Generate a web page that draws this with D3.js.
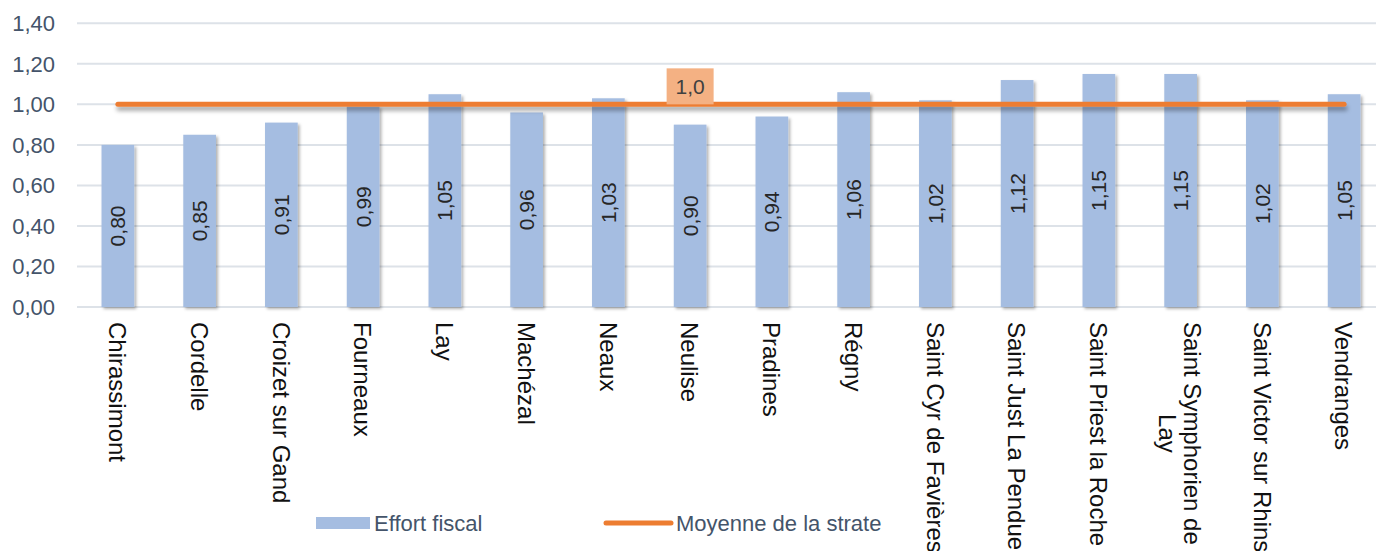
<!DOCTYPE html>
<html>
  <head>
    <meta charset="utf-8">
    <script src="https://cdnjs.cloudflare.com/ajax/libs/d3/7.8.5/d3.min.js"></script>
    <style>
      body { margin: 0; background: #fff; }
      svg { display: block; font-family: "Liberation Sans", Arial, sans-serif; }
      line.grid { stroke: #dde2e8; stroke-width: 2; }
      rect.bar { fill: #a5bde1; }
      path.moyenne { fill: none; stroke: #ed7d31; stroke-width: 5; stroke-linecap: round; }
      text.tick { fill: #44546a; font-size: 22px; }
      text.val { fill: #262626; font-size: 21px; }
      text.cat { fill: #111; font-size: 24px; }
      text.leg { fill: #44546a; font-size: 22px; }
    </style>
  </head>
  <body>
    <svg width="1376" height="551"></svg>
    <script>
      // communes (les "\n" marquent un retour a la ligne)
      var communes = ["Chirassimont", "Cordelle", "Croizet sur Gand", "Fourneaux", "Lay",
        "Machézal", "Neaux", "Neulise", "Pradines", "Régny", "Saint Cyr de Favières",
        "Saint Just La Pendue", "Saint Priest la Roche", "Saint Symphorien de\nLay",
        "Saint Victor sur Rhins", "Vendranges"];
      var effortFiscal = [0.80, 0.85, 0.91, 0.99, 1.05, 0.96, 1.03, 0.90, 0.94, 1.06,
        1.02, 1.12, 1.15, 1.15, 1.02, 1.05];
      var moyenneStrate = [1.0, 1.0, 1.0, 1.0, 1.0, 1.0, 1.0, 1.0, 1.0, 1.0,
        1.0, 1.0, 1.0, 1.0, 1.0, 1.0];
      var yTicks = [0, 0.2, 0.4, 0.6, 0.8, 1.0, 1.2, 1.4];
      var labelIndex = 7; // etiquette "1,0" sur la courbe

      var fr2 = (v) => v.toFixed(2).replace(".", ",");
      var fr1 = (v) => v.toFixed(1).replace(".", ",");

      var svg = d3.select("svg");

      var defs = svg.append("defs");
      defs.append("filter").attr("id", "barShadow")
        .attr("x", "-20%").attr("y", "-10%").attr("width", "150%").attr("height", "130%")
        .append("feDropShadow")
        .attr("dx", 2).attr("dy", 2).attr("stdDeviation", 1.5)
        .attr("flood-color", "#000").attr("flood-opacity", 0.3);
      // la ligne est horizontale : region du filtre en unites utilisateur
      defs.append("filter").attr("id", "lineShadow")
        .attr("filterUnits", "userSpaceOnUse")
        .attr("x", 0).attr("y", 0).attr("width", 1376).attr("height", 551)
        .append("feDropShadow")
        .attr("dx", 1).attr("dy", 4).attr("stdDeviation", 2)
        .attr("flood-color", "#000").attr("flood-opacity", 0.35);

      var x = d3.scaleBand()
        .domain(communes)
        .range([77, 1385])
        .paddingInner(0.6)
        .paddingOuter(0.3);

      var y = d3.scaleLinear().domain([0, 1.4]).range([307, 23.3]);

      // grille
      svg.append("g").selectAll("line")
        .data(yTicks)
        .enter()
        .append("line")
        .attr("class", "grid")
        .attr("x1", 77).attr("x2", 1376)
        .attr("y1", (d) => y(d)).attr("y2", (d) => y(d));

      svg.append("g").selectAll("text")
        .data(yTicks)
        .enter()
        .append("text")
        .attr("class", "tick")
        .attr("x", 55)
        .attr("y", (d) => y(d))
        .attr("dy", "0.36em")
        .attr("text-anchor", "end")
        .text(fr2);

      // barres
      svg.append("g").selectAll("rect")
        .data(effortFiscal)
        .enter()
        .append("rect")
        .attr("class", "bar")
        .attr("x", (d, i) => x(communes[i]))
        .attr("width", x.bandwidth())
        .attr("y", (d) => y(d))
        .attr("height", (d) => y(0) - y(d))
        .attr("filter", "url(#barShadow)");

      // valeurs dans les barres
      svg.append("g").selectAll("text")
        .data(effortFiscal)
        .enter()
        .append("text")
        .attr("class", "val")
        .attr("text-anchor", "middle")
        .attr("dy", "0.36em")
        .attr("transform", (d, i) => {
          var cx = x(communes[i]) + x.bandwidth() / 2;
          var cy = (y(d) + y(0)) / 2;
          return "translate(" + cx + "," + cy + ") rotate(-90)";
        })
        .text(fr2);

      // moyenne de la strate
      var line = d3.line()
        .x((d, i) => x(communes[i]) + x.bandwidth() / 2)
        .y((d) => y(d));

      svg.append("path")
        .datum(moyenneStrate)
        .attr("class", "moyenne")
        .attr("d", line)
        .attr("filter", "url(#lineShadow)");

      var lx = x(communes[labelIndex]) + x.bandwidth() / 2;
      var ly = y(moyenneStrate[labelIndex]);
      svg.append("rect")
        .attr("x", lx - 23.5).attr("y", ly - 36)
        .attr("width", 47).attr("height", 36)
        .attr("fill", "#f4b183");
      svg.append("text")
        .attr("x", lx).attr("y", ly - 10)
        .attr("text-anchor", "middle")
        .attr("fill", "#404040")
        .style("font-size", "21px")
        .text(fr1(moyenneStrate[labelIndex]));

      // etiquettes des communes
      var cats = svg.append("g").selectAll("text")
        .data(communes)
        .enter()
        .append("text")
        .attr("class", "cat");

      cats.each(function (d) {
        var t = d3.select(this);
        var lines = d.split("\n");
        var cx = x(d) + x.bandwidth() / 2;
        var lh = 25;
        t.attr("transform", "translate(" + cx + ",322) rotate(90)");
        if (lines.length === 1) {
          t.attr("dy", "0.36em").text(d);
          return;
        }
        var spans = lines.map((s, k) => t.append("tspan")
          .attr("x", 0)
          .attr("y", (k - (lines.length - 1) / 2) * lh)
          .attr("dy", "0.36em")
          .text(s));
        var w = d3.max(spans, (s) => s.node().getComputedTextLength());
        spans.forEach((s) => s.attr("x", w / 2).attr("text-anchor", "middle"));
      });

      // legende
      var leg = svg.append("g");
      leg.append("rect")
        .attr("x", 316).attr("y", 517)
        .attr("width", 54).attr("height", 12)
        .attr("fill", "#a5bde1");
      leg.append("text")
        .attr("class", "leg")
        .attr("x", 374).attr("y", 523).attr("dy", "0.36em")
        .text("Effort fiscal");
      leg.append("line")
        .attr("x1", 606).attr("x2", 671)
        .attr("y1", 523).attr("y2", 523)
        .attr("stroke", "#ed7d31").attr("stroke-width", 5)
        .attr("stroke-linecap", "round");
      leg.append("text")
        .attr("class", "leg")
        .attr("x", 676).attr("y", 523).attr("dy", "0.36em")
        .text("Moyenne de la strate");
    </script>
  </body>
</html>
